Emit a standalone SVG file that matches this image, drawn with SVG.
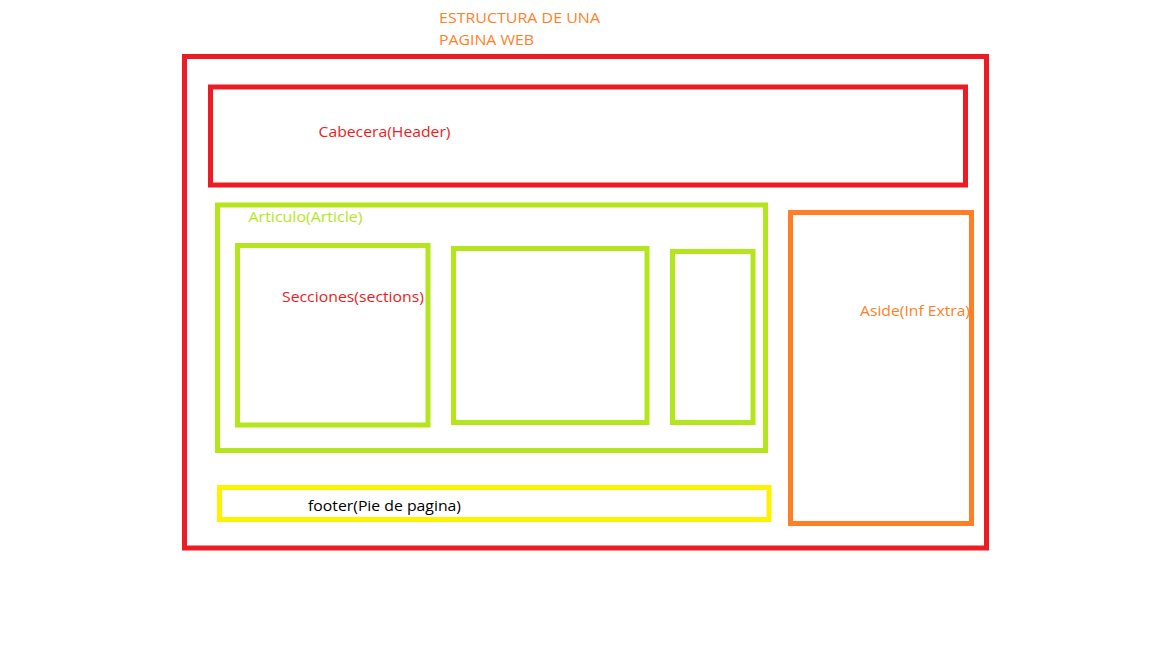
<svg xmlns="http://www.w3.org/2000/svg" width="1152" height="648" viewBox="0 0 1152 648">
<style>
.box{fill:none;stroke-width:5}
.red{stroke:#ED1C24}
.lime{stroke:#B5E61D}
.orange{stroke:#FF7F27}
.yellow{stroke:#FFF200}
text{font-family:"Open Sans","Liberation Sans",sans-serif;font-size:15px}
.tred{fill:#ED1C24}
.tlime{fill:#B5E61D}
.torange{fill:#FF7F27}
.tblack{fill:#000000}
</style>
<rect width="1152" height="648" fill="#FFFFFF"/>
<g id="title">
<text class="torange" x="439" y="22.5" textLength="161" lengthAdjust="spacingAndGlyphs">ESTRUCTURA DE UNA</text>
<text class="torange" x="439" y="44.5" textLength="95" lengthAdjust="spacingAndGlyphs">PAGINA WEB</text>
</g>
<g id="page">
<rect class="box red" x="184.5" y="56.5" width="802" height="491.5"/>
</g>
<g id="header">
<rect class="box red" x="210.5" y="87" width="755" height="98"/>
<text class="tred" x="318.5" y="136.5" textLength="132" lengthAdjust="spacingAndGlyphs">Cabecera(Header)</text>
</g>
<g id="article">
<rect class="box lime" x="217.5" y="205" width="548" height="245.5"/>
<text class="tlime" x="248.5" y="222" textLength="114" lengthAdjust="spacingAndGlyphs">Articulo(Article)</text>
</g>
<g id="section1">
<rect class="box lime" x="237.5" y="245.5" width="190.5" height="179.5"/>
<text class="tred" x="282" y="301.5" textLength="142" lengthAdjust="spacingAndGlyphs">Secciones(sections)</text>
</g>
<g id="section2">
<rect class="box lime" x="453.5" y="248.5" width="193.5" height="174"/>
</g>
<g id="section3">
<rect class="box lime" x="672.5" y="251.5" width="80.5" height="171"/>
</g>
<g id="footer">
<rect class="box yellow" x="219.5" y="487.5" width="549.5" height="32"/>
<text class="tblack" x="308" y="510.5" textLength="153" lengthAdjust="spacingAndGlyphs">footer(Pie de pagina)</text>
</g>
<g id="aside">
<rect class="box orange" x="790.5" y="212.5" width="181" height="311"/>
<text class="torange" x="860" y="316" textLength="110" lengthAdjust="spacingAndGlyphs">Aside(Inf Extra)</text>
</g>
<g id="connectors"></g>
</svg>
